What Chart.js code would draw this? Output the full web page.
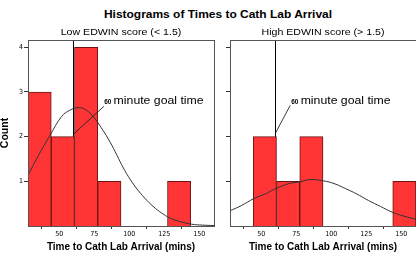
<!DOCTYPE html>
<html><head><meta charset="utf-8">
<script src="https://cdn.jsdelivr.net/npm/chart.js@4.4.1/dist/chart.umd.min.js"></script>
<style>
html,body{margin:0;padding:0;width:416px;height:256px;overflow:hidden;background:#fff;}
#title{position:absolute;left:217.7px;top:8px;white-space:nowrap;font:bold 10.5px 'Liberation Sans',Arial,sans-serif;line-height:12px;transform:translateX(-50%) scaleX(1.14);color:#000;}
canvas{position:absolute;top:0;}
</style></head><body>
<div id="title">Histograms of Times to Cath Lab Arrival</div>
<canvas id="c1" width="216" height="256" style="left:0px"></canvas>
<canvas id="c2" width="216" height="256" style="left:202px"></canvas>
<script>
// ---- data ----
const binEdges = [27.7, 44.3, 60.9, 77.5, 94.1, 110.7, 127.3, 143.9, 160.5];
const lowCounts = [3, 2, 4, 1, 0, 0, 1, 0];
const highCounts = [0, 2, 1, 2, 0, 0, 0, 1];
const xTickValues = [50, 75, 100, 125, 150];
const yTickValues = [1, 2, 3, 4];
const lowCurveX = [27.6, 35, 43.4, 51.7, 57.5, 63.6, 69.5, 75.5, 80, 85, 90, 94.6, 99.3, 105, 111.2, 117, 123.1, 129, 135, 144.6, 152, 160.5];
const lowCurveY = [1.13, 1.57, 2.03, 2.45, 2.59, 2.65, 2.59, 2.40, 2.20, 1.95, 1.66, 1.37, 1.11, 0.85, 0.62, 0.44, 0.29, 0.18, 0.11, 0.04, 0.02, 0.01];
const highCurveX = [28.4, 36, 44.5, 53, 61.2, 70, 77.9, 85, 94.5, 102, 110, 118, 126.6, 135, 143.4, 152, 160.7];
const highCurveY = [0.35, 0.46, 0.61, 0.72, 0.85, 0.95, 0.99, 1.04, 1.01, 0.95, 0.84, 0.72, 0.57, 0.44, 0.31, 0.22, 0.15];
const goalTime = 60;
const panelTitles = ['Low EDWIN score (< 1.5)', 'High EDWIN score (> 1.5)'];
const xAxisTitle = 'Time to Cath Lab Arrival (mins)';
const yAxisTitle = 'Count';
const goalNum = '60';
const goalText = 'minute goal time';

// annotation anchors in data coordinates
const lowAnnot = {textAt: [82.1, 2.73], from: [60, 2.05], to: [81.9, 2.68]};
const highAnnot = {textAt: [71.4, 2.74], from: [60, 2.07], to: [70.7, 2.70]};

const SANS = "'Liberation Sans', Arial, sans-serif";
const NARROW = "'Liberation Sans Narrow', 'DejaVu Sans Condensed', 'Liberation Sans', sans-serif";

function drawStretched(ctx, text, x, y, font, sx, align) {
  ctx.save();
  ctx.translate(x, y);
  ctx.scale(sx, 1);
  ctx.font = font;
  ctx.textAlign = align;
  ctx.textBaseline = 'alphabetic';
  ctx.fillStyle = '#000';
  ctx.fillText(text, 0, 0);
  ctx.restore();
}

const deco = {
  id: 'deco',
  beforeDatasetsDraw(chart, args, o) {
    const {ctx, chartArea: a, scales: {x}} = chart;
    const px = Math.round(x.getPixelForValue(o.goal)) + 0.5;
    ctx.save();
    ctx.strokeStyle = '#000';
    ctx.lineWidth = 1;
    ctx.beginPath();
    ctx.moveTo(px, a.top);
    ctx.lineTo(px, a.bottom);
    ctx.stroke();
    ctx.restore();
  },
  afterDatasetsDraw(chart, args, o) {
    const {ctx, chartArea: a, scales: {x, y}} = chart;
    ctx.save();
    // box
    ctx.strokeStyle = '#555';
    ctx.lineWidth = 1;
    ctx.strokeRect(a.left + 0.5, a.top + 0.5, a.right - a.left, a.bottom - a.top);
    // leader line
    ctx.strokeStyle = '#222';
    ctx.lineWidth = 0.9;
    ctx.beginPath();
    ctx.moveTo(x.getPixelForValue(o.annot.from[0]), y.getPixelForValue(o.annot.from[1]));
    ctx.lineTo(x.getPixelForValue(o.annot.to[0]), y.getPixelForValue(o.annot.to[1]));
    ctx.stroke();
    // annotation text
    const tx = x.getPixelForValue(o.annot.textAt[0]);
    const ty = y.getPixelForValue(o.annot.textAt[1]);
    ctx.font = 'bold 6.5px ' + SANS;
    const w = ctx.measureText(o.num).width;
    drawStretched(ctx, o.num, tx, ty, 'bold 6.5px ' + SANS, 1, 'left');
    drawStretched(ctx, o.text, tx + w + 2.2, ty, '11px ' + SANS, 1.115, 'left');
    // panel subtitle
    drawStretched(ctx, o.title, (a.left + a.right) / 2, 34.5, '9px ' + SANS, 1.18, 'center');
    ctx.restore();
  }
};

function makeChart(id, counts, cx, cy, title, annot, showLabels) {
  const bars = counts.map((c, i) => ({x: (binEdges[i] + binEdges[i + 1]) / 2, y: c > 0 ? c : null}));
  const curve = cx.map((v, i) => ({x: v, y: cy[i]}));
  return new Chart(document.getElementById(id), {
    type: 'bar',
    data: {
      datasets: [
        {type: 'line', data: curve, borderColor: '#333', borderWidth: 1, pointRadius: 0, tension: 0.4, fill: false, order: 0},
        {type: 'bar', data: bars, backgroundColor: '#ff3535', borderColor: '#6b1414', borderWidth: 1,
         barPercentage: 1, categoryPercentage: 1, order: 1}
      ]
    },
    options: {
      responsive: false, animation: false, devicePixelRatio: 1,
      layout: {padding: {top: 40, left: 0, right: 2, bottom: 0}},
      plugins: {
        legend: {display: false}, tooltip: {enabled: false}, title: {display: false},
        deco: {goal: goalTime, title: title, annot: annot, num: goalNum, text: goalText}
      },
      scales: {
        x: {
          type: 'linear', offset: false, min: binEdges[0], max: binEdges[binEdges.length - 1],
          afterBuildTicks: s => { s.ticks = xTickValues.map(v => ({value: v})); },
          afterFit: s => { s.height = 30; },
          grid: {drawOnChartArea: false, drawTicks: true, tickLength: 3, color: '#333'},
          border: {display: false},
          ticks: {font: {family: NARROW, size: 7}, color: '#000', padding: 1, maxRotation: 0, autoSkip: false},
          title: {display: true, text: xAxisTitle, color: '#000',
                  font: {family: SANS, size: 10, weight: 'bold', lineHeight: 1.2}, padding: {top: 0, bottom: 3}}
        },
        y: {
          min: 0, max: 4.163,
          afterBuildTicks: s => { s.ticks = yTickValues.map(v => ({value: v})); },
          afterFit: s => { s.width = 28; },
          grid: {drawOnChartArea: false, drawTicks: true, tickLength: 4, color: '#333'},
          border: {display: false},
          ticks: {font: {family: NARROW, size: 7}, color: '#000', padding: 1,
                  callback: v => showLabels ? String(v) : ''},
          title: {display: showLabels, text: yAxisTitle, color: '#000',
                  font: {family: SANS, size: 10.5, weight: 'bold', lineHeight: 1}, padding: {top: 0, bottom: 0}}
        }
      }
    },
    plugins: [deco]
  });
}

makeChart('c1', lowCounts, lowCurveX, lowCurveY, panelTitles[0], lowAnnot, true);
makeChart('c2', highCounts, highCurveX, highCurveY, panelTitles[1], highAnnot, false);
</script>
</body></html>
